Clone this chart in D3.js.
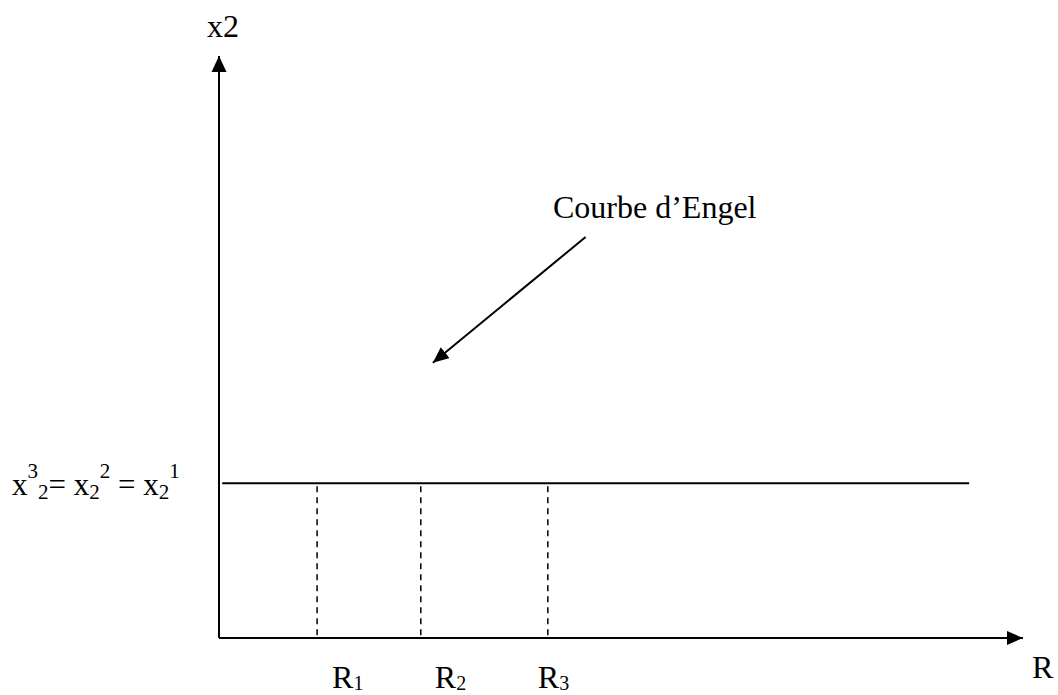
<!DOCTYPE html>
<html>
<head>
<meta charset="utf-8">
<script src="https://cdn.jsdelivr.net/npm/d3@7"></script>
<style>
  body { margin: 0; background: #fff; }
  text { font-family: "Liberation Serif", "Times New Roman", serif; fill: #000; }
</style>
</head>
<body>
<div id="chart"></div>
<script>
// incomes (R) and the constant quantity x2 (Engel curve is flat)
const incomeLabels = ["R1", "R2", "R3"];
const incomes = [12.2, 25.1, 40.9];
const quantityX2 = 26.6;
const engelStart = 0.4;
const engelEnd = 93.3;
// annotation arrow, from text to curve (data units)
const arrowFrom = [45.6, 68.9];
const arrowTo = [26.6, 47.3];

const width = 1058, height = 695;
const margin = { top: 56, right: 35, bottom: 57, left: 219 };

const svg = d3.select("#chart")
    .append("svg")
    .attr("width", width)
    .attr("height", height);

const x = d3.scaleLinear()
    .domain([0, 100])
    .range([margin.left, width - margin.right]);

const y = d3.scaleLinear()
    .domain([0, 100])
    .range([height - margin.bottom, margin.top]);

const defs = svg.append("defs");
defs.append("marker")
    .attr("id", "head")
    .attr("markerUnits", "userSpaceOnUse")
    .attr("markerWidth", 17)
    .attr("markerHeight", 16)
    .attr("refX", 16)
    .attr("refY", 8)
    .attr("orient", "auto")
    .append("path")
    .attr("d", "M0,0.5 L16,8 L0,15.5 Z")
    .attr("fill", "#000");
defs.append("marker")
    .attr("id", "headSmall")
    .attr("markerUnits", "userSpaceOnUse")
    .attr("markerWidth", 17)
    .attr("markerHeight", 14)
    .attr("refX", 16)
    .attr("refY", 7)
    .attr("orient", "auto")
    .append("path")
    .attr("d", "M0,0 L16,7 L0,14 Z")
    .attr("fill", "#000");

// axes
svg.append("line")
    .attr("x1", x(0)).attr("y1", y(0))
    .attr("x2", x(0)).attr("y2", y(100))
    .attr("stroke", "#000").attr("stroke-width", 2)
    .attr("marker-end", "url(#head)");

svg.append("line")
    .attr("x1", x(0)).attr("y1", y(0))
    .attr("x2", x(100)).attr("y2", y(0))
    .attr("stroke", "#000").attr("stroke-width", 2)
    .attr("marker-end", "url(#headSmall)");

// engel curve (horizontal)
svg.append("line")
    .attr("x1", x(engelStart)).attr("y1", y(quantityX2))
    .attr("x2", x(engelEnd)).attr("y2", y(quantityX2))
    .attr("stroke", "#000").attr("stroke-width", 2);

// dashed guides
svg.selectAll(".guide")
    .data(incomes)
    .join("line")
    .attr("class", "guide")
    .attr("x1", d => x(d)).attr("x2", d => x(d))
    .attr("y1", y(quantityX2) + 3).attr("y2", y(0))
    .attr("stroke", "#000")
    .attr("stroke-width", 1.5)
    .attr("stroke-dasharray", "6,5");

// income labels with subscripts
const labelShift = [15, 14, -10];
const rLabels = svg.selectAll(".rlab")
    .data(incomeLabels)
    .join("text")
    .attr("class", "rlab")
    .attr("x", (d, i) => x(incomes[i]) + labelShift[i])
    .attr("y", height - 7)
    .style("font-size", "32px");
rLabels.append("tspan").text(d => d[0]);
rLabels.append("tspan")
    .attr("dy", 2)
    .style("font-size", "20px")
    .text(d => d.slice(1));

// axis titles
svg.append("text")
    .attr("x", x(0) - 12)
    .attr("y", 37)
    .style("font-size", "32px")
    .text("x2");

svg.append("text")
    .attr("x", x(100) + 9)
    .attr("y", y(0) + 40)
    .style("font-size", "32px")
    .text("R");

// quantity label: x³₂= x₂² = x₂¹
const q = svg.append("text")
    .attr("x", 12)
    .attr("y", y(quantityX2) + 12)
    .style("font-size", "31px");
const parts = [
    ["x", 0, null], ["3", -17, 21], ["2", 21, 21], ["= x", -4, null],
    ["2", 4, 21], ["2", -21, 21], [" = x", 17, null], ["2", 4, 21], ["1", -21, 21]
];
parts.forEach(p => {
    const t = q.append("tspan").attr("dy", p[1]).text(p[0]);
    if (p[2]) t.style("font-size", p[2] + "px");
});

// annotation
svg.append("text")
    .attr("x", 553)
    .attr("y", 218)
    .style("font-size", "32px")
    .text("Courbe d\u2019Engel");

svg.append("line")
    .attr("x1", x(arrowFrom[0])).attr("y1", y(arrowFrom[1]))
    .attr("x2", x(arrowTo[0])).attr("y2", y(arrowTo[1]))
    .attr("stroke", "#000").attr("stroke-width", 2)
    .attr("marker-end", "url(#headSmall)");
</script>
</body>
</html>
